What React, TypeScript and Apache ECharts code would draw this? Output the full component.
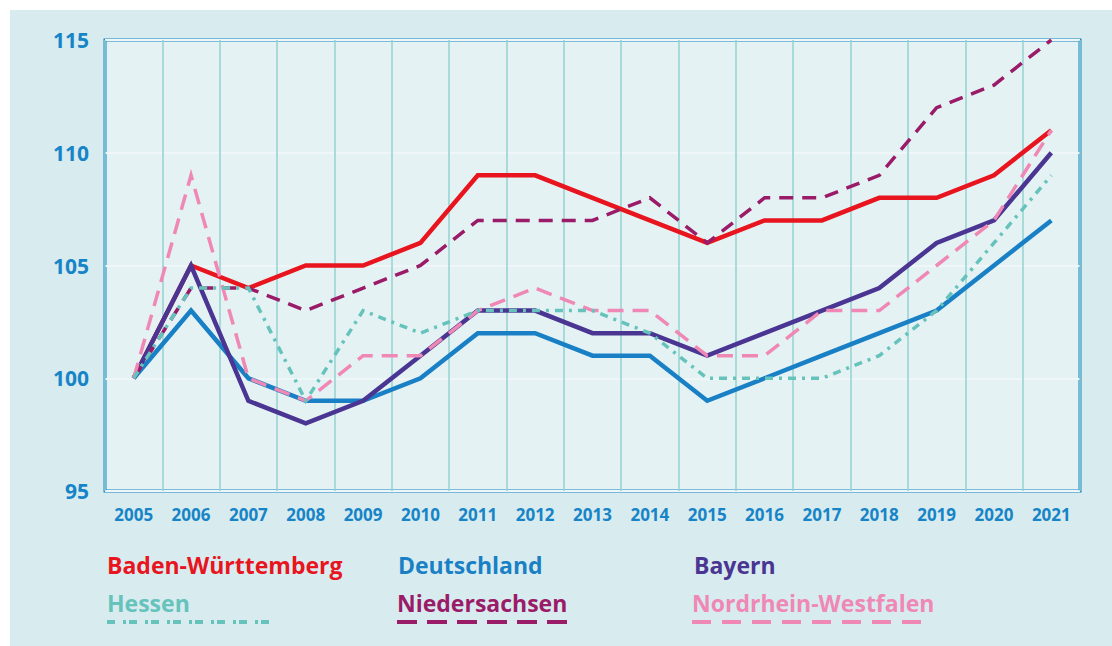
import React, { useEffect, useRef } from "react";
import * as echarts from "echarts";

const years = ["2005","2006","2007","2008","2009","2010","2011","2012","2013","2014","2015","2016","2017","2018","2019","2020","2021"];
const badenWuerttemberg = [100,105,104,105,105,106,109,109,108,107,106,107,107,108,108,109,111];
const deutschland = [100,103,100,99,99,100,102,102,101,101,99,100,101,102,103,105,107];
const bayern = [100,105,99,98,99,101,103,103,102,102,101,102,103,104,106,107,110];
const hessen = [100,104,104,99,103,102,103,103,103,102,100,100,100,101,103,106,109];
const niedersachsen = [100,104,104,103,104,105,107,107,107,108,106,108,108,109,112,113,115];
const nordrheinWestfalen = [100,109,100,99,101,101,103,104,103,103,101,101,103,103,105,107,111];

const C = {
  bw: "#e8141e",
  de: "#1a80c6",
  by: "#4a3592",
  he: "#66c3bc",
  ni: "#9a1b68",
  nrw: "#ef88b5",
  axis: "#1784c7",
};

const FONT = "'Open Sans', sans-serif";

export default function App() {
  const ref = useRef<HTMLDivElement>(null);
  useEffect(() => {
    if (!ref.current) return;
    const chart = echarts.init(ref.current, undefined, { renderer: "svg" });
    const line = (name: string, data: number[], color: string, width: number, dash?: any) => ({
      name,
      type: "line",
      data,
      symbol: "none",
      lineStyle: { color, width, type: dash || "solid", cap: "butt", join: "miter" },
      itemStyle: { color },
    });
    const legendText = (x: number, y: number, text: string, color: string) => ({
      type: "text",
      x,
      y,
      style: { text, fill: color, font: `bold 23px ${FONT}`, textVerticalAlign: "middle" },
    });
    const legendLine = (x1: number, x2: number, color: string, dash: number[]) => ({
      type: "line",
      shape: { x1, y1: 612, x2, y2: 612 },
      style: { stroke: color, lineWidth: 4, lineDash: dash },
    });
    chart.setOption({
      animation: false,
      backgroundColor: "#d8ecef",
      grid: {
        left: 95,
        right: 32,
        top: 30,
        bottom: 155,
        show: true,
        backgroundColor: "#e5f2f4",
        borderColor: C.axis,
        borderWidth: 3,
      },
      xAxis: {
        type: "category",
        data: years,
        boundaryGap: true,
        axisLine: { show: false },
        axisTick: { show: false },
        axisLabel: { color: C.axis, fontSize: 17, fontWeight: "bold", fontFamily: FONT, margin: 15, interval: 0 },
        splitLine: { show: true, lineStyle: { color: "#93d2d2", width: 1.5 } },
      },
      yAxis: {
        type: "value",
        min: 95,
        max: 115,
        interval: 5,
        axisLine: { show: false },
        axisTick: { show: false },
        axisLabel: { color: C.axis, fontSize: 21, fontWeight: "bold", fontFamily: FONT, margin: 16 },
        splitLine: { show: true, lineStyle: { color: "#eef6f7", width: 2 } },
      },
      series: [
        line("Baden-Württemberg", badenWuerttemberg, C.bw, 4.5),
        line("Deutschland", deutschland, C.de, 4.5),
        line("Bayern", bayern, C.by, 4.5),
        line("Niedersachsen", niedersachsen, C.ni, 3.5, [14, 9]),
        line("Nordrhein-Westfalen", nordrheinWestfalen, C.nrw, 3.5, [16, 9]),
        line("Hessen", hessen, C.he, 3.5, [8, 6, 3, 6]),
      ],
      graphic: [
        legendText(97, 555, "Baden-Württemberg", C.bw),
        legendText(388, 555, "Deutschland", C.de),
        legendText(684, 555, "Bayern", C.by),
        legendText(97, 593, "Hessen", C.he),
        legendText(387, 593, "Niedersachsen", C.ni),
        legendText(682, 593, "Nordrhein-Westfalen", C.nrw),
        legendLine(97, 265, C.he, [8, 8, 3, 3]),
        legendLine(387, 557, C.ni, [20, 10]),
        legendLine(682, 920, C.nrw, [19, 11]),
      ],
    });
    return () => chart.dispose();
  }, []);
  return (
    <div style={{ position: "fixed", left: 0, top: 0, width: 1112, height: 646, background: "#ffffff" }}>
      <div ref={ref} style={{ position: "absolute", left: 10, top: 10, width: 1102, height: 636 }} />
    </div>
  );
}
